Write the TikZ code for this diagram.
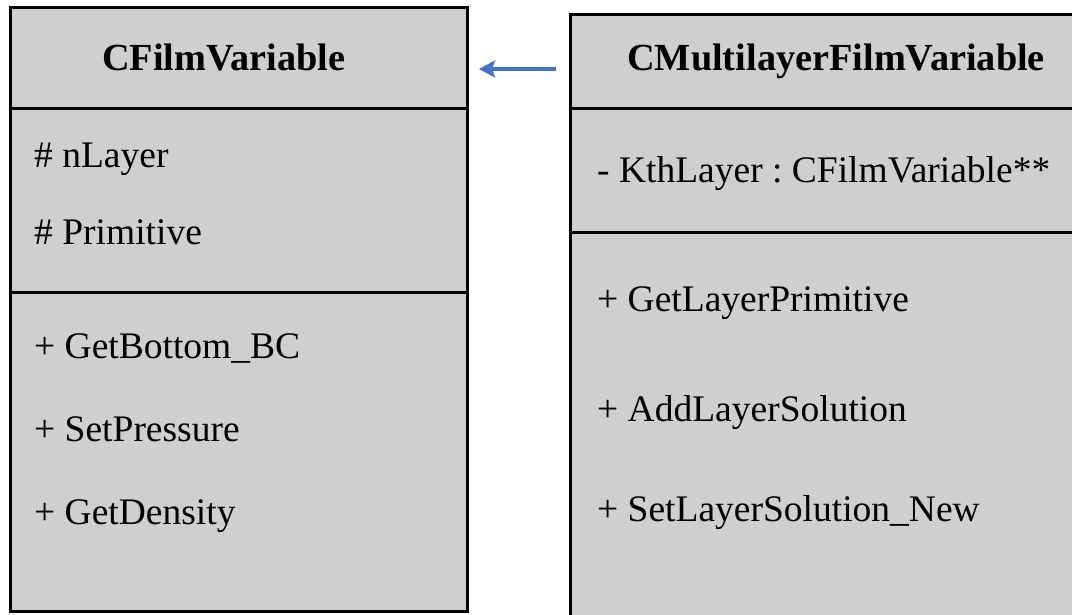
\documentclass[tikz,border=0pt]{standalone}
\usepackage{fontspec}
\setmainfont{Liberation Serif}
\usetikzlibrary{arrows.meta}
\definecolor{boxfill}{HTML}{D0CECE}
\definecolor{linkblue}{HTML}{4472C4}

\begin{document}
\frenchspacing
\begin{tikzpicture}[x=1pt,y=-1pt,
  classbox/.style={draw=black, fill=boxfill, line width=3pt, inner sep=0pt, anchor=north west},
  divider/.style={draw=black, line width=3pt},
  title/.style={font=\fontsize{38.3}{42}\selectfont\bfseries, anchor=base west, inner sep=0pt},
  member/.style={font=\fontsize{37.5}{42}\selectfont, anchor=base west, inner sep=0pt},
  link/.style={draw=linkblue, line width=4pt, -{Stealth[length=16pt,width=17pt,inset=3pt]}}]
\useasboundingbox (0,0) rectangle (1072,615);
\clip (0,0) rectangle (1072,615);
\fill[white] (0,0) rectangle (1072,615);

% class boxes
\node[classbox, minimum width=457.5pt, minimum height=603.5pt] (film) at (8.5,6.5) {};
\node[classbox, minimum width=520pt, minimum height=620pt] (multi) at (568.7,13) {};

% compartment separators
\draw[divider] (film.west |- 0,109) -- (film.east |- 0,109);
\draw[divider] (film.west |- 0,292.5) -- (film.east |- 0,292.5);
\draw[divider] (multi.west |- 0,109) -- (multi.east |- 0,109);
\draw[divider] (multi.west |- 0,232.5) -- (multi.east |- 0,232.5);

% class names
\node[title] (filmName) at (102,71) {CFilmVariable};
\node[title] (multiName) at (627,71) {CMultilayerFilmVariable};

% CFilmVariable members
\node[member] (fA1) at (34,168) {\# nLayer};
\node[member] (fA2) at (34,244) {\# Primitive};
\node[member] (fM1) at (34,358) {+ GetBottom\_BC};
\node[member] (fM2) at (34,441) {+ SetPressure};
\node[member] (fM3) at (34,524) {+ GetDensity};

% CMultilayerFilmVariable members
\node[member] (mA1) at (597,183) {- KthLayer : CFilmVariable**};
\node[member] (mM1) at (597,311) {+ GetLayerPrimitive};
\node[member] (mM2) at (597,421) {+ AddLayerSolution};
\node[member] (mM3) at (597,521) {+ SetLayerSolution\_New};

% inheritance link
\coordinate (arrTail) at (556,69);
\coordinate (arrTip) at (479,69);
\draw[link] (arrTail) -- (arrTip);
\end{tikzpicture}
\end{document}
